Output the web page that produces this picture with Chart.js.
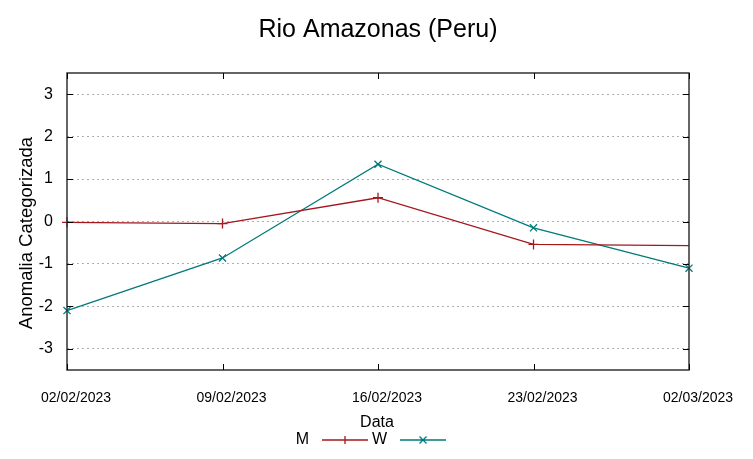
<!DOCTYPE html>
<html lang="pt">
<head>
  <meta charset="UTF-8">
  <title>Rio Amazonas (Peru)</title>
  <script src="https://cdn.jsdelivr.net/npm/chart.js"></script>
  <style>
    body { margin: 0; background: #fff; }
    canvas { display: block; }
  </style>
</head>
<body>
  <canvas id="chart" width="753" height="459"></canvas>
  <script>
    const dates = ['02/02/2023', '09/02/2023', '16/02/2023', '23/02/2023', '02/03/2023'];
    const valuesM = [-0.02, -0.05, 0.56, -0.54, -0.57];
    const valuesW = [-2.1, -0.86, 1.35, -0.15, -1.1];
    const yTicks = [-3, -2, -1, 0, 1, 2, 3];

    const RED = '#a3171d';
    const TEAL = '#007a7a';
    const FONT = '"Liberation Sans", Arial, sans-serif';

    // title, axis names, frame with inward ticks, legend
    const decor = {
      id: 'decor',
      afterDraw(chart) {
        const ctx = chart.ctx;
        const a = chart.chartArea;
        const xs = chart.scales.x, ys = chart.scales.y;
        ctx.save();
        ctx.fillStyle = '#000';
        ctx.textAlign = 'center';
        ctx.textBaseline = 'middle';
        ctx.font = '25px ' + FONT;
        ctx.fillText('Rio Amazonas (Peru)', 378, 30);

        ctx.font = '16px ' + FONT;
        ctx.fillText('Data', 377, 423);

        ctx.save();
        ctx.translate(27, 233);
        ctx.rotate(-Math.PI / 2);
        ctx.font = '18.5px ' + FONT;
        ctx.fillText('Anomalia Categorizada', 0, 0);
        ctx.restore();

        // frame
        ctx.strokeStyle = '#333';
        ctx.lineWidth = 1.5;
        ctx.strokeRect(a.left, a.top, a.right - a.left, a.bottom - a.top);
        ctx.lineWidth = 1;
        ctx.strokeStyle = '#000';
        ctx.beginPath();
        yTicks.forEach(v => {
          const y = Math.round(ys.getPixelForValue(v)) + 0.5;
          ctx.moveTo(a.left, y); ctx.lineTo(a.left + 6, y);
          ctx.moveTo(a.right, y); ctx.lineTo(a.right - 6, y);
        });
        dates.forEach((d, i) => {
          const x = Math.round(xs.getPixelForValue(i)) + 0.5;
          ctx.moveTo(x, a.bottom); ctx.lineTo(x, a.bottom - 6);
          ctx.moveTo(x, a.top); ctx.lineTo(x, a.top + 6);
        });
        ctx.stroke();

        // legend: text followed by sample line and marker
        ctx.font = '16px ' + FONT;
        ctx.textAlign = 'right';
        const ly = 440;
        chart.data.datasets.forEach((ds, i) => {
          const tx = 309 + i * 78;
          ctx.fillStyle = '#000';
          ctx.fillText(ds.label, tx, ly);
          const x0 = tx + 13, x1 = tx + 59, xm = (x0 + x1) / 2;
          ctx.strokeStyle = ds.borderColor;
          ctx.lineWidth = 1.3;
          ctx.beginPath();
          ctx.moveTo(x0, ly); ctx.lineTo(x1, ly);
          if (ds.pointStyle === 'cross') {
            ctx.moveTo(xm, ly - 4); ctx.lineTo(xm, ly + 4);
          } else {
            ctx.moveTo(xm - 3.5, ly - 3.5); ctx.lineTo(xm + 3.5, ly + 3.5);
            ctx.moveTo(xm - 3.5, ly + 3.5); ctx.lineTo(xm + 3.5, ly - 3.5);
          }
          ctx.stroke();
        });
        ctx.restore();
      }
    };

    new Chart(document.getElementById('chart'), {
      type: 'line',
      data: {
        labels: dates,
        datasets: [
          {
            label: 'M',
            data: valuesM,
            borderColor: RED,
            backgroundColor: RED,
            borderWidth: 1.3,
            pointStyle: 'cross',
            // the last M marker is hidden behind the frame in the original
            pointRadius: c => c.dataIndex === dates.length - 1 ? 0 : 5,
            pointBorderWidth: 1.3,
            tension: 0
          },
          {
            label: 'W',
            data: valuesW,
            borderColor: TEAL,
            backgroundColor: TEAL,
            borderWidth: 1.3,
            pointStyle: 'crossRot',
            pointRadius: 5,
            pointBorderWidth: 1.3,
            tension: 0
          }
        ]
      },
      options: {
        responsive: false,
        animation: false,
        layout: { padding: { left: 0, right: 64, top: 73, bottom: 0 } },
        plugins: {
          legend: { display: false },
          title: { display: false },
          tooltip: { enabled: false }
        },
        scales: {
          x: {
            type: 'category',
            offset: false,
            afterFit: s => { s.height = 89; },
            grid: { display: false, drawTicks: false },
            border: { display: false },
            ticks: {
              color: '#000',
              font: { family: FONT, size: 14 },
              padding: 20,
              maxRotation: 0,
              autoSkip: false,
              labelOffset: 9
            }
          },
          y: {
            min: -3.5,
            max: 3.5,
            afterFit: s => { s.width = 67; },
            afterBuildTicks: s => { s.ticks = yTicks.map(v => ({ value: v })); },
            grid: {
              drawTicks: false,
              color: '#b0b0b0',
              lineWidth: 1
            },
            border: { display: false, dash: [2, 3] },
            ticks: {
              color: '#000',
              font: { family: FONT, size: 16 },
              padding: 14
            }
          }
        }
      },
      plugins: [decor]
    });
  </script>
</body>
</html>
